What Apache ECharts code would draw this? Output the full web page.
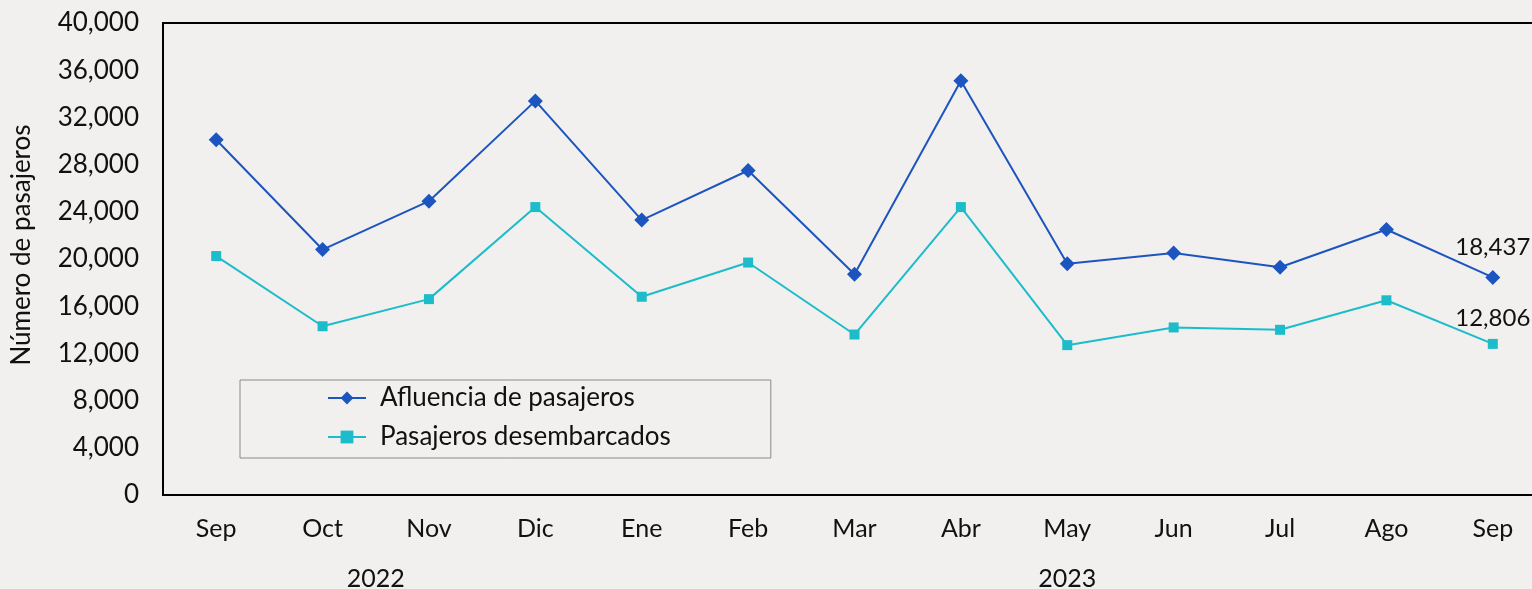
<!DOCTYPE html>
<html>
<head>
<meta charset="utf-8">
<script src="https://cdn.jsdelivr.net/npm/echarts@6/dist/echarts.min.js"></script>
<style>
  html, body { margin: 0; padding: 0; background: #f1f0ee; }
  #chart { width: 1532px; height: 589px; }
</style>
</head>
<body>
<div id="chart"></div>
<script>
// meses (sep 2022 - sep 2023)
const months = ['Sep', 'Oct', 'Nov', 'Dic', 'Ene', 'Feb', 'Mar', 'Abr', 'May', 'Jun', 'Jul', 'Ago', 'Sep']
const afluencia = [30100, 20800, 24900, 33400, 23300, 27500, 18700, 35100, 19600, 20500, 19300, 22500, 18437]
const desembarcados = [20250, 14300, 16600, 24400, 16800, 19700, 13600, 24400, 12700, 14200, 14000, 16500, 12806]
const years = ['2022', '2023']
const yearCenters = [1.5, 8] // posición (en índice de mes) del rótulo del año

const font = 'Lato'
const fmt = v => Number(v).toLocaleString('en-US')

// solo el último punto lleva etiqueta
const withLastLabel = (arr, dist) => arr.map((v, i) => i === arr.length - 1
  ? { value: v, label: { show: true, position: 'top', distance: dist, formatter: p => fmt(p.value), color: '#111', fontSize: 24, fontFamily: font } }
  : v)

const chart = echarts.init(document.getElementById('chart'))
chart.setOption({
  backgroundColor: '#f1f0ee',
  animation: false,
  textStyle: { fontFamily: font },
  grid: {
    left: 163, top: 23, width: 1383, height: 472,
    outerBoundsMode: 'none',
    containLabel: false,
    show: true, borderColor: '#000', borderWidth: 2, backgroundColor: 'transparent'
  },
  legend: {
    orient: 'vertical',
    left: 240, top: 380,
    padding: [5, 100, 8, 87],
    itemGap: 13,
    itemWidth: 38, itemHeight: 16,
    borderColor: '#8a8a8a', borderWidth: 1,
    textStyle: { fontSize: 26, color: '#111', fontFamily: font, padding: [0, 0, 0, 9] }
  },
  xAxis: [
    {
      type: 'category',
      data: months,
      axisLine: { lineStyle: { color: '#000', width: 2 } },
      axisTick: { show: false },
      axisLabel: { color: '#111', fontSize: 25, margin: 21, fontFamily: font }
    },
    {
      type: 'value',
      min: -0.5, max: 12.5,
      position: 'bottom',
      offset: 50,
      axisLine: { show: false },
      axisTick: { show: false },
      splitLine: { show: false },
      axisLabel: {
        customValues: yearCenters,
        formatter: v => years[yearCenters.indexOf(v)],
        color: '#111', fontSize: 25, margin: 21, fontFamily: font
      }
    }
  ],
  yAxis: {
    type: 'value',
    min: 0, max: 40000, interval: 4000,
    name: 'Número de pasajeros',
    nameLocation: 'middle',
    nameGap: 128,
    nameTextStyle: { fontSize: 26, color: '#111', fontFamily: font, padding: [0, 0, 0, 28] },
    axisLine: { show: true, onZero: false, lineStyle: { color: '#000', width: 2 } },
    axisTick: { show: false },
    splitLine: { show: false },
    axisLabel: { color: '#111', fontSize: 26, margin: 24, formatter: fmt, fontFamily: font }
  },
  series: [
    {
      name: 'Afluencia de pasajeros',
      type: 'line',
      data: withLastLabel(afluencia, 11),
      symbol: 'diamond',
      symbolSize: 15,
      color: '#1c55c0',
      lineStyle: { width: 2 }
    },
    {
      name: 'Pasajeros desembarcados',
      type: 'line',
      data: withLastLabel(desembarcados, 9),
      symbol: 'rect',
      symbolSize: 10,
      color: '#1dbccb',
      lineStyle: { width: 2 }
    }
  ]
})
</script>
</body>
</html>
